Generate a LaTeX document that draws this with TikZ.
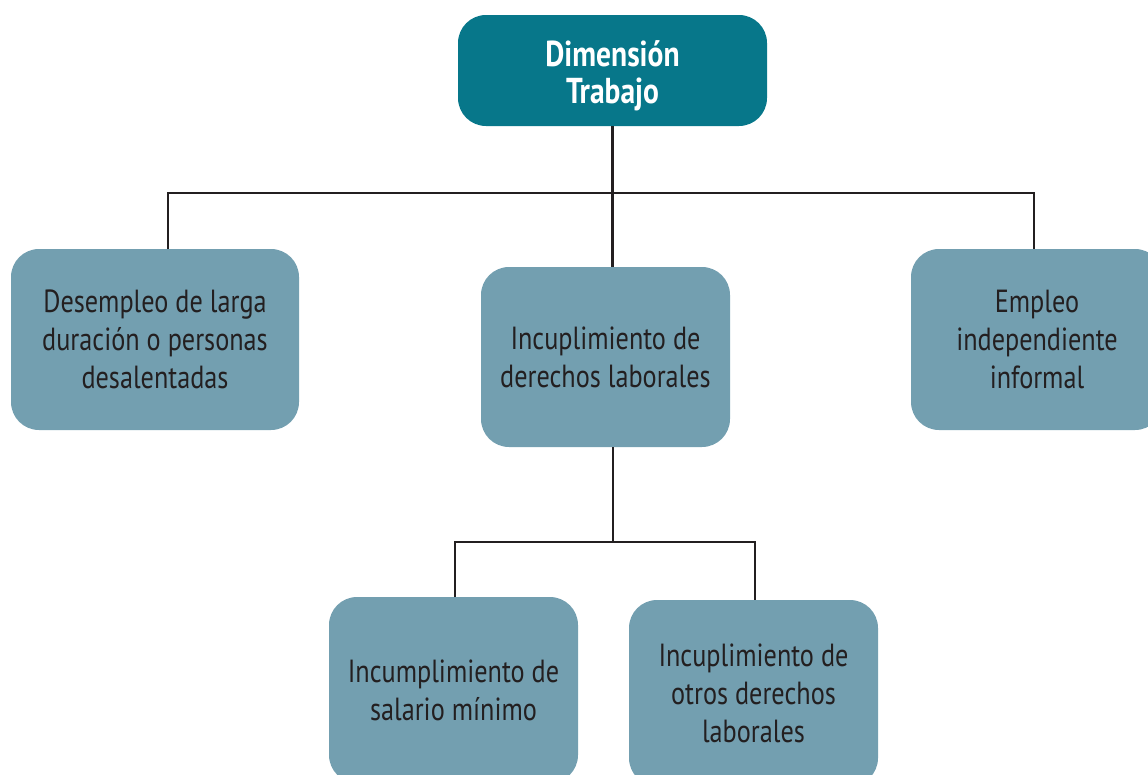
\documentclass[tikz,border=0pt]{standalone}
\usepackage{fontspec}
\setmainfont{PT Sans}[FakeStretch=0.82]
\usetikzlibrary{positioning,calc}
\definecolor{topc}{HTML}{07778A}
\definecolor{boxc}{HTML}{739FB0}
\definecolor{ink}{HTML}{231F20}
\tikzset{
  box/.style={rectangle, rounded corners=28pt, fill=boxc, draw=none, align=center,
    text=ink, font=\fontsize{32}{38}\selectfont, inner sep=0pt},
  topbox/.style={box, fill=topc, text=white, font=\fontsize{36}{37}\selectfont\bfseries},
  link/.style={draw=ink, line width=2.4pt}
}
\begin{document}
\begin{tikzpicture}[x=1pt,y=-1pt]
\useasboundingbox (0,0) rectangle (1148,774);
\begin{scope}
\clip (0,0) rectangle (1148,774);
\node[topbox, minimum width=309pt, minimum height=111pt] (top) at (612.5,70.5) {\raisebox{-7.5pt}[\height][\depth]{\begin{tabular}{@{}c@{}}Dimensión\\Trabajo\end{tabular}}};
\node[box, minimum width=288pt, minimum height=181pt] (lft) at (155,339.5) {Desempleo de larga\\duración o personas\\desalentadas};
\node[box, minimum width=249pt, minimum height=180pt] (cen) at (605.5,357) {Incuplimiento de\\derechos laborales};
\node[box, minimum width=252pt, minimum height=181pt] (rgt) at (1037,339.5) {Empleo\\independiente\\informal};
\node[box, minimum width=249pt, minimum height=186pt] (bl) at (453.5,690) {Incumplimiento de\\salario mínimo};
\node[box, minimum width=249pt, minimum height=186pt] (br) at (753.5,693) {Incuplimiento de\\otros derechos\\laborales};
\end{scope}
\coordinate (bus1) at (613,193);
\coordinate (lt) at (168,249);
\coordinate (rt) at (1034,249);
\coordinate (bus2) at (613,542);
\coordinate (blt) at (455,597);
\coordinate (brt) at (755,600);
\draw[link] (top.south) -- (top.south |- cen.north);
\draw[link] (lt) |- (bus1) -| (rt);
\draw[link] (cen.south -| bus2) -- (bus2);
\draw[link] (blt) |- (bus2) -| (brt);
\end{tikzpicture}
\end{document}
